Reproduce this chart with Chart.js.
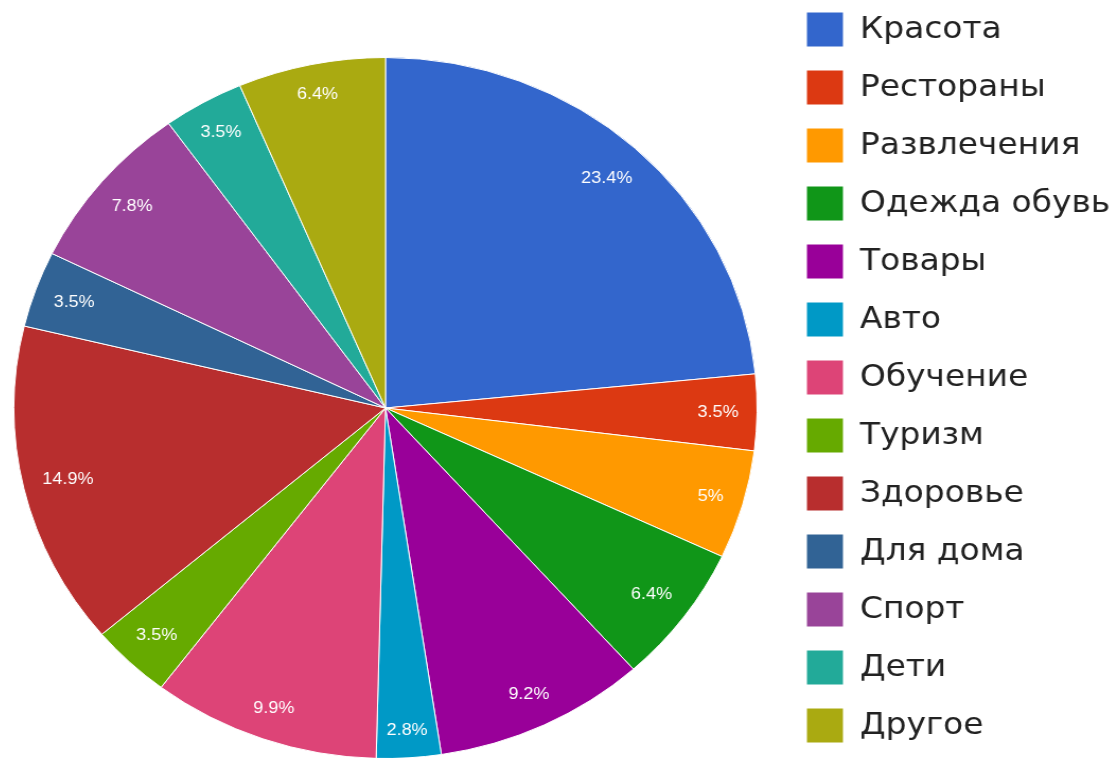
<!DOCTYPE html>
<html>
<head>
<meta charset="utf-8">
<script src="https://cdn.jsdelivr.net/npm/chart.js@4/dist/chart.umd.min.js"></script>
<style>
  html, body { margin: 0; padding: 0; background: #fff; overflow: hidden; }
</style>
</head>
<body>
<canvas id="chart" width="1064" height="801" style="display:block;width:1128px;height:801px;margin-top:-23px;margin-left:-11px"></canvas>
<script>
const categories = ['Красота', 'Рестораны', 'Развлечения', 'Одежда обувь', 'Товары', 'Авто',
    'Обучение', 'Туризм', 'Здоровье', 'Для дома', 'Спорт', 'Дети', 'Другое'];
const shares = [23.4, 3.5, 5, 6.4, 9.2, 2.8, 9.9, 3.5, 14.9, 3.5, 7.8, 3.5, 6.4];
const colors = ['#3366cc', '#dc3912', '#ff9900', '#109618', '#990099', '#0099c6',
    '#dd4477', '#66aa00', '#b82e2e', '#316395', '#994499', '#22aa99', '#aaaa11'];

const fontFamily = '"Liberation Sans", Arial, sans-serif';
const legendFamily = '"DejaVu Sans", Verdana, sans-serif';

// percent labels inside the slices, pushed out until the text box corner
// touches an inner circle
const sliceLabels = {
    id: 'sliceLabels',
    afterDatasetsDraw(chart) {
        const ctx = chart.ctx;
        const meta = chart.getDatasetMeta(0);
        ctx.save();
        ctx.fillStyle = '#fff';
        ctx.font = '17px ' + fontFamily;
        ctx.textAlign = 'center';
        ctx.textBaseline = 'middle';
        meta.data.forEach((arc, i) => {
            const p = arc.getProps(['x', 'y', 'startAngle', 'endAngle', 'outerRadius'], true);
            const text = shares[i] + '%';
            const mid = (p.startAngle + p.endAngle) / 2;
            const a = Math.abs(Math.cos(mid)), b = Math.abs(Math.sin(mid));
            const hw = ctx.measureText(text).width / 2, hh = 8.5;
            const lim = p.outerRadius * 0.951;
            const k = a * hw + b * hh;
            const d = -k + Math.sqrt(k * k - (hw * hw + hh * hh - lim * lim));
            ctx.fillText(text, p.x + Math.cos(mid) * d, p.y + Math.sin(mid) * d);
        });
        ctx.restore();
    }
};

new Chart(document.getElementById('chart'), {
    type: 'pie',
    data: {
        labels: categories,
        datasets: [{
            data: shares,
            backgroundColor: colors,
            borderColor: '#ffffff',
            borderWidth: 1
        }]
    },
    options: {
        responsive: false,
        animation: false,
        plugins: {
            tooltip: { enabled: false },
            // empty boxes above and below the pie, so the legend keeps the full height
            title: {
                display: true,
                text: '',
                fullSize: false,
                position: 'top',
                padding: { top: 0, bottom: 56 },
                font: { size: 20, family: fontFamily }
            },
            subtitle: {
                display: true,
                text: '',
                fullSize: false,
                position: 'bottom',
                padding: { top: 7, bottom: 0 },
                font: { size: 10, family: fontFamily }
            },
            legend: {
                position: 'right',
                maxWidth: 316,
                labels: {
                    boxWidth: 35,
                    boxHeight: 35,
                    padding: 23,
                    color: '#222',
                    font: { size: 31, family: legendFamily }
                }
            }
        }
    },
    plugins: [sliceLabels]
});
</script>
</body>
</html>
